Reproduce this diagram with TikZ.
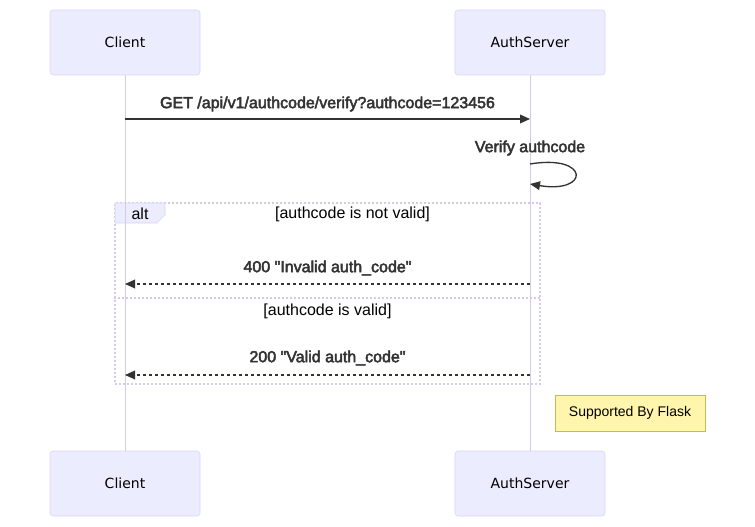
\documentclass[tikz,border=0pt]{standalone}
\usepackage{fontspec}
\setmainfont{Liberation Sans}
\newfontfamily\actorfont{DejaVu Sans}
\newfontfamily\msgfont{Liberation Sans}[AutoFakeBold=3]
\usetikzlibrary{positioning,arrows.meta,calc}
\definecolor{actorfill}{RGB}{236,236,255}
\definecolor{actorborder}{RGB}{218,212,244}
\definecolor{lifeline}{RGB}{212,202,240}
\definecolor{msgtext}{RGB}{51,51,51}
\definecolor{notefill}{RGB}{255,245,173}
\definecolor{noteborder}{RGB}{190,190,80}

\begin{document}
\begin{tikzpicture}[x=0.75pt,y=-0.75pt,
    actor/.style={rectangle, rounded corners=2.25pt, draw=actorborder, fill=actorfill, minimum width=112.5pt, minimum height=48.75pt, font=\actorfont\fontsize{10.5}{12}\selectfont},
    lifeline/.style={draw=lifeline, line width=0.75pt},
    msglabel/.style={text=msgtext, font=\msgfont\bfseries\fontsize{12}{14}\selectfont, inner sep=0pt},
    call/.style={draw=msgtext, line width=1pt, -{Triangle[length=7.5pt,width=6.5pt]}},
    reply/.style={call, dash pattern=on 2.25pt off 2.25pt},
    framebox/.style={draw=lifeline, line width=0.9pt, dash pattern=on 1.5pt off 1.5pt},
    guard/.style={font=\fontsize{12}{14}\selectfont, inner sep=0pt}]
\useasboundingbox (0,0) rectangle (755,527);

% participants
\node[actor] (clientTop) at (125,42.5) {Client};
\node[actor] (authTop) at (530,42.5) {AuthServer};
\node[actor] (clientBot) at (125,483.5) {Client};
\node[actor] (authBot) at (530,483.5) {AuthServer};

% alt frame
\node[framebox, minimum width=318.75pt, minimum height=135.75pt, inner sep=0pt] (altFrame) at (327.5,293.5) {};
\draw[framebox] (altFrame.west |- 0,298) -- (altFrame.east |- 0,298);
\draw[draw=actorborder, fill=actorfill] (115,203) -- (165,203) -- (165,215) -- (157,223) -- (115,223) -- cycle;
\node[guard] (altTag) at (140,214) {alt};
\node[guard] (notValid) at (352.5,214) {[authcode is not valid]};
\node[guard] (isValid) at (327.5,311) {[authcode is valid]};

\draw[lifeline] (clientTop) -- (clientBot);
\draw[lifeline] (authTop) -- (authBot);

% messages
\coordinate (getFrom) at (125,119);
\coordinate (getTo) at (530,119);
\node[msglabel] (getLabel) at (327.5,104) {GET /api/v1/authcode/verify?authcode=123456};
\draw[call] (getFrom) -- (getTo);

\coordinate (loopFrom) at (530,164);
\coordinate (loopTo) at (530,184);
\node[msglabel] (verifyLabel) at (530,148) {Verify authcode};
\draw[call] (loopFrom) .. controls (590,154) and (590,194) .. (loopTo);

\coordinate (badFrom) at (530,284);
\coordinate (badTo) at (125,284);
\node[msglabel] (badLabel) at (327.5,268) {400 \textquotedbl Invalid auth\_code\textquotedbl};
\draw[reply] (badFrom) -- (badTo);

\coordinate (okFrom) at (530,375);
\coordinate (okTo) at (125,375);
\node[msglabel] (okLabel) at (327.5,358) {200 \textquotedbl Valid auth\_code\textquotedbl};
\draw[reply] (okFrom) -- (okTo);

% note
\node[rectangle, draw=noteborder, fill=notefill, minimum width=112.5pt, minimum height=27pt, font=\fontsize{10.5}{12}\selectfont] (flaskNote) at (630,413) {Supported By Flask};
\end{tikzpicture}
\end{document}
